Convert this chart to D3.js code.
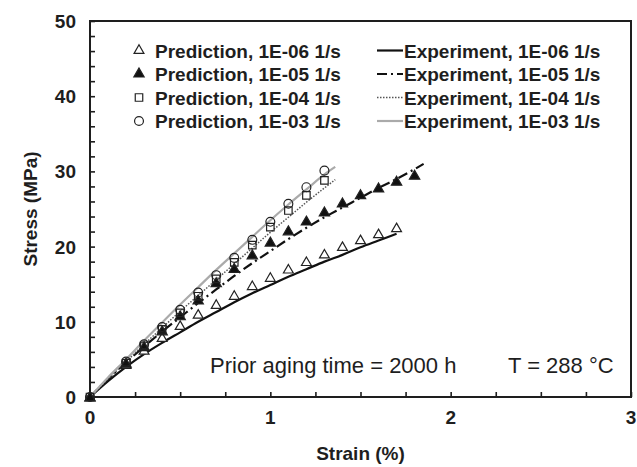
<!DOCTYPE html>
<html><head><meta charset="utf-8">
<script src="https://cdn.jsdelivr.net/npm/d3@7"></script>
<style>body{margin:0;background:#fff}svg{display:block}text{font-family:"Liberation Sans",Arial,sans-serif}</style>
</head><body><svg id="c" width="637" height="467"></svg>
<script>
// Prediction strains
const predStrain = [0,0.2,0.3,0.4,0.5,0.6,0.7,0.8,0.9,1.0,1.1,1.2,1.3,1.4,1.5,1.6,1.7,1.8];
const pred06 = [0,4.3,6.2,7.9,9.5,11.0,12.3,13.5,14.8,15.9,17.0,18.0,19.0,20.0,20.9,21.7,22.5];
const pred05 = [0,4.5,6.7,8.8,10.8,12.9,15.2,17.1,18.9,20.6,22.1,23.4,24.6,25.8,26.9,27.8,28.7,29.5];
const pred04 = [0,4.5,6.8,9.0,11.2,13.4,15.7,17.9,20.2,22.6,24.8,26.8,28.8];
const pred03 = [0,4.7,7.0,9.3,11.6,13.9,16.2,18.5,20.9,23.3,25.7,27.9,30.1];
// Experiment curves
const expStrain06 = [0,0.1,0.2,0.3,0.4,0.5,0.6,0.7,0.8,0.9,1.0,1.1,1.2,1.3,1.4,1.5,1.6,1.7];
const exp06 = [0,2.1,4.0,5.7,7.2,8.6,10.0,11.3,12.6,13.8,14.9,16.0,17.0,18.0,18.9,19.9,20.8,21.7];
const expStrain05 = [0,0.1,0.2,0.3,0.4,0.5,0.6,0.7,0.8,0.9,1.0,1.1,1.2,1.3,1.4,1.5,1.6,1.7,1.8,1.85];
const exp05 = [0,2.4,4.6,6.7,8.7,10.6,12.5,14.3,16.1,17.8,19.4,21.0,22.5,23.9,25.2,26.5,27.8,29.0,30.3,31.0];
const expStrain04 = [0,0.1,0.2,0.3,0.4,0.5,0.6,0.7,0.8,0.9,1.0,1.1,1.2,1.3,1.36];
const exp04 = [0,2.4,4.7,7.0,9.2,11.4,13.5,15.6,17.7,19.8,21.9,23.9,25.9,27.8,28.9];
const exp03 = [0,2.6,5.0,7.5,9.9,12.3,14.6,16.9,19.1,21.3,23.5,25.6,27.6,29.6,30.6];
const xTicks = [0,1,2,3];
const yTicks = [0,10,20,30,40,50];
const predLabels = ["Prediction, 1E-06 1/s","Prediction, 1E-05 1/s","Prediction, 1E-04 1/s","Prediction, 1E-03 1/s"];
const expLabels = ["Experiment, 1E-06 1/s","Experiment, 1E-05 1/s","Experiment, 1E-04 1/s","Experiment, 1E-03 1/s"];

const svg = d3.select("#c");
const L=90,R=631,T=21,B=397;
const x = d3.scaleLinear().domain([0,3]).range([L,R]);
const y = d3.scaleLinear().domain([0,50]).range([B,T]);
const ink = "#1e1e1e";

// frame
svg.append("rect").attr("x",L).attr("y",T).attr("width",R-L).attr("height",B-T)
  .attr("fill","none").attr("stroke",ink).attr("stroke-width",2);

// ticks
const gx = svg.append("g").attr("transform",`translate(0,${B})`)
  .call(d3.axisTop(x).tickValues(d3.range(0,3.001,0.25)).tickSize(5).tickFormat(""));
const gy = svg.append("g").attr("transform",`translate(${L},0)`)
  .call(d3.axisRight(y).tickValues(d3.range(0,50.001,2)).tickSize(5).tickFormat(""));
[gx,gy].forEach(g=>{g.select(".domain").remove();g.selectAll("line").attr("stroke",ink).attr("stroke-width",1.6);});

svg.append("g").selectAll("text").data(xTicks).join("text")
  .attr("x",d=>x(d)).attr("y",B+27).attr("text-anchor","middle")
  .attr("font-size",19).attr("font-weight","bold").attr("fill",ink).text(d=>d);
svg.append("g").selectAll("text").data(yTicks).join("text")
  .attr("x",L-14).attr("y",d=>y(d)+7).attr("text-anchor","end")
  .attr("font-size",19).attr("font-weight","bold").attr("fill",ink).text(d=>d);

svg.append("text").attr("x",(L+R)/2).attr("y",460).attr("text-anchor","middle")
  .attr("font-size",19).attr("font-weight","bold").attr("fill",ink).text("Strain (%)");
svg.append("text").attr("transform",`translate(37,${(T+B)/2}) rotate(-90)`).attr("text-anchor","middle")
  .attr("font-size",19).attr("font-weight","bold").attr("fill",ink).text("Stress (MPa)");

// experiment lines
const styles = [
  {stroke:"#111",w:2.2,dash:null},
  {stroke:"#111",w:2.2,dash:"10,4,2,4"},
  {stroke:"#555",w:1.5,dash:"1.5,1.5"},
  {stroke:"#aaa",w:2.2,dash:null}
];
const expSets = [[expStrain06,exp06],[expStrain05,exp05],[expStrain04,exp04],[expStrain04,exp03]];
const line = d3.line().x(d=>x(d[0])).y(d=>y(d[1])).curve(d3.curveMonotoneX);
expSets.forEach((s,i)=>{
  const pts = s[0].map((v,j)=>[v,s[1][j]]);
  svg.append("path").datum(pts).attr("d",line).attr("fill","none")
    .attr("stroke",styles[i].stroke).attr("stroke-width",styles[i].w)
    .attr("stroke-dasharray",styles[i].dash);
});

// markers
const predSets = [pred06,pred05,pred04,pred03];
const shapes = [d3.symbolTriangle,d3.symbolTriangle,d3.symbolSquare,d3.symbolCircle];
const fills = ["#fff","#111","none","none"];
const sizes = [42,46,56,62];
function drawMarker(g,i){
  g.append("path").attr("d",d3.symbol(shapes[i],sizes[i])())
   .attr("fill",fills[i]).attr("stroke","#222").attr("stroke-width",1.2);
}
predSets.forEach((vals,i)=>{
  vals.forEach((v,j)=>{
    const g = svg.append("g").attr("transform",`translate(${x(predStrain[j])},${y(v)+(i<2?1:0)})`);
    drawMarker(g,i);
  });
});

// legend
const rowY = d3.range(4).map(i=>50.5+i*23.5);
predLabels.forEach((t,i)=>{
  const g = svg.append("g").attr("transform",`translate(139,${rowY[i]})`);
  drawMarker(g,i);
  svg.append("text").attr("x",155).attr("y",rowY[i]+7).attr("font-size",19).attr("font-weight","bold")
    .attr("fill",ink).text(t);
});
expLabels.forEach((t,i)=>{
  svg.append("line").attr("x1",377).attr("x2",403).attr("y1",rowY[i]).attr("y2",rowY[i])
    .attr("stroke",styles[i].stroke).attr("stroke-width",styles[i].w).attr("stroke-dasharray",styles[i].dash);
  svg.append("text").attr("x",404).attr("y",rowY[i]+7).attr("font-size",19).attr("font-weight","bold")
    .attr("fill",ink).text(t);
});

svg.append("text").attr("x",210).attr("y",373).attr("font-size",22).attr("fill",ink).text("Prior aging time = 2000 h");
svg.append("text").attr("x",508).attr("y",373).attr("font-size",22).attr("fill",ink).text("T = 288 °C");
</script></body></html>
